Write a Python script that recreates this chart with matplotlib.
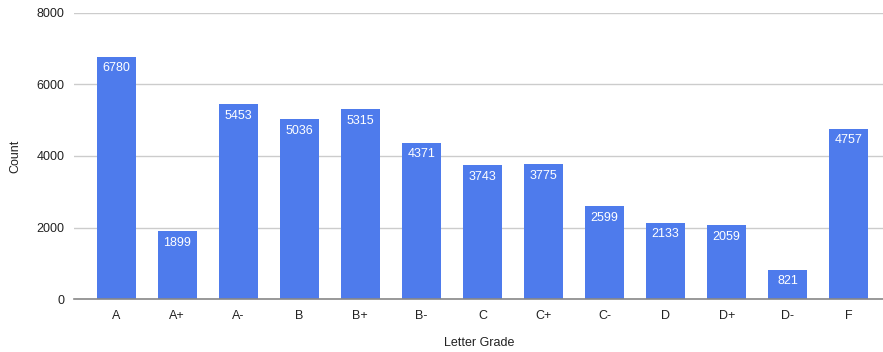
import matplotlib
matplotlib.use("Agg")
import matplotlib.pyplot as plt

grades = ["A", "A+", "A-", "B", "B+", "B-", "C", "C+", "C-", "D", "D+", "D-", "F"]
counts = [6780, 1899, 5453, 5036, 5315, 4371, 3743, 3775, 2599, 2133, 2059, 821, 4757]
yticks = [0, 2000, 4000, 6000, 8000]

plt.rcParams["font.family"] = ["Liberation Sans", "DejaVu Sans"]

W, H = 883, 352
left_px, top_px, bottom_px = 74, 13, 299
fig = plt.figure(figsize=(W / 100, H / 100), dpi=100)
ax = fig.add_axes([left_px / W, 1 - bottom_px / H, 1 - left_px / W, (bottom_px - top_px) / H])

x = list(range(len(grades)))
ax.bar(x, counts, width=0.64, color="#4e7bec", zorder=3)

for xi, v in zip(x, counts):
    ax.annotate(str(v), (xi, v), xytext=(0, -4), textcoords="offset points",
                ha="center", va="top", color="white", fontsize=9, zorder=4)

ax.set_ylim(0, 8000)
ax.set_xlim(-0.69, 12.56)
ax.set_yticks(yticks)
ax.set_yticklabels([str(t) for t in yticks])
ax.set_xticks(x)
ax.set_xticklabels(grades)
ax.tick_params(axis="both", length=0, labelsize=9, colors="#222222")
ax.tick_params(axis="y", pad=7)
ax.tick_params(axis="x", pad=8)

ax.grid(axis="y", color="#cccccc", linewidth=1, zorder=0)
for s in ["top", "right", "left"]:
    ax.spines[s].set_visible(False)
ax.spines["bottom"].set_color("#888888")
ax.spines["bottom"].set_linewidth(1.2)
ax.spines["bottom"].set_zorder(5)

ax.set_ylabel("Count", fontsize=9, color="#222222")
ax.set_xlabel("Letter Grade", fontsize=9, color="#222222")
# place axis titles in figure pixel positions
ax_w = W - left_px
ax_h = bottom_px - top_px
ax.yaxis.set_label_coords((15 - left_px) / ax_w, (bottom_px - 156) / ax_h)
ax.xaxis.set_label_coords((479 - left_px) / ax_w, (bottom_px - 343) / ax_h)
ax.yaxis.label.set_va("center")
ax.xaxis.label.set_va("center")

fig.savefig("out.png", dpi=100)
